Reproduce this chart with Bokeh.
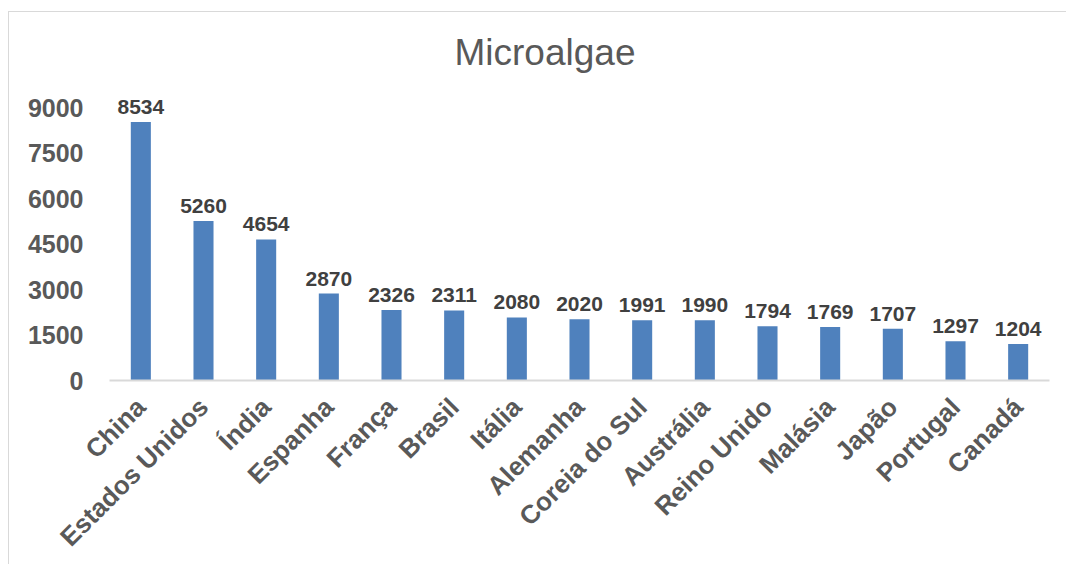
from math import pi
from bokeh.plotting import figure
from bokeh.models import ColumnDataSource, FixedTicker, Range1d
from bokeh.core.properties import value
from bokeh.embed import file_html
from bokeh.resources import INLINE

countries = ["China", "Estados Unidos", "Índia", "Espanha", "França", "Brasil", "Itália",
             "Alemanha", "Coreia do Sul", "Austrália", "Reino Unido", "Malásia", "Japão",
             "Portugal", "Canadá"]
counts = [8534, 5260, 4654, 2870, 2326, 2311, 2080, 2020, 1991, 1990, 1794, 1769, 1707, 1297, 1204]
y_ticks = [0, 1500, 3000, 4500, 6000, 7500, 9000]

src = ColumnDataSource(dict(x=countries, y=counts, lbl=[str(v) for v in counts]))

p = figure(x_range=countries, y_range=Range1d(0, 10000), width=1058, height=553,
           output_backend="svg", toolbar_location=None,
           min_border_left=100, min_border_right=18, min_border_bottom=185, min_border_top=65)
p.styles = {"border-top": "1px solid #D9D9D9", "border-left": "1px solid #D9D9D9",
            "margin-left": "8px", "margin-top": "11px"}

p.title.text = "Microalgae"
p.title.align = "left"
p.title.offset = 345
p.title.text_font = "Liberation Sans"
p.title.text_font_size = "37px"
p.title.text_font_style = "normal"
p.title.text_color = "#595959"

p.vbar(x="x", top="y", width=0.32, source=src, fill_color="#4F81BD", line_color=None)
p.text(x="x", y="y", text="lbl", source=src, text_align="center", text_baseline="alphabetic",
       y_offset=-15, text_font=value("Liberation Sans"), text_font_size="21px",
       text_font_style="bold", text_color="#404040")

p.xgrid.visible = False
p.ygrid.visible = False
p.outline_line_color = None

p.yaxis.ticker = FixedTicker(ticks=y_ticks)
p.yaxis.axis_line_color = None
p.yaxis.major_tick_line_color = None
p.yaxis.minor_tick_line_color = None
p.yaxis.major_label_standoff = 20
p.yaxis.major_label_text_font = "Liberation Sans"
p.yaxis.major_label_text_font_size = "25px"
p.yaxis.major_label_text_font_style = "bold"
p.yaxis.major_label_text_color = "#595959"

p.xaxis.axis_line_color = "#D9D9D9"
p.xaxis.axis_line_width = 2
p.xaxis.major_tick_line_color = None
p.xaxis.minor_tick_line_color = None
p.xaxis.major_label_orientation = pi / 4
p.xaxis.major_label_standoff = 16
p.xaxis.major_label_text_font = "Liberation Sans"
p.xaxis.major_label_text_font_size = "26px"
p.xaxis.major_label_text_font_style = "bold"
p.xaxis.major_label_text_color = "#595959"

p.x_range.range_padding = 0
p.background_fill_color = "white"
p.border_fill_color = "white"

open("out.html", "w").write(file_html(p, INLINE))
